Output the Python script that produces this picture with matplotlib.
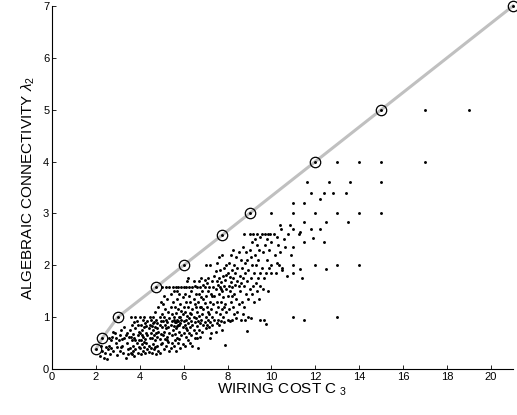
import matplotlib
matplotlib.use("Agg")
import matplotlib.pyplot as plt
import numpy as np

plt.rcParams['font.family'] = ['Liberation Sans', 'DejaVu Sans']
plt.rcParams['mathtext.fontset'] = 'custom'
plt.rcParams['mathtext.rm'] = 'Liberation Sans'
plt.rcParams['mathtext.it'] = 'Liberation Sans:italic'

# Optimal frontier (circled points joined by gray line)
frontier_x = [2.0, 2.3, 3.0, 4.75, 6.0, 7.75, 9.0, 12.0, 15.0, 21.0]
frontier_y = [0.38, 0.6, 1.0, 1.58, 2.0, 2.58, 3.0, 4.0, 5.0, 7.0]

# Cloud of sampled networks (wiring cost, algebraic connectivity)
cloud_pts = [
    (2.2,0.25),(2.3,0.35),(2.35,0.22),(2.45,0.42),(2.5,0.2),(2.4,0.3),(2.25,0.45),
    (2.55,0.38),(2.6,0.45),(2.65,0.28),(2.7,0.55),(2.75,0.62),(2.8,0.35),(2.85,0.7),(2.9,0.5),(2.95,0.27),(2.6,0.6),(2.7,0.4),(2.8,0.72),(2.9,0.6),(2.95,0.42),
    (3.05,0.55),(3.1,0.65),(3.1,0.35),(3.15,0.75),(3.2,0.45),(3.25,0.3),(3.3,0.6),(3.3,0.8),(3.35,0.22),(3.4,0.5),(3.4,0.7),(3.45,0.38),(3.2,0.58),(3.35,0.65),(3.45,0.28),(3.15,0.42),(3.5,0.62),
    (3.55,0.4),(3.55,0.75),(3.6,0.3),(3.6,1.0),(3.65,0.55),(3.65,0.85),(3.7,0.45),(3.7,0.68),(3.75,0.25),(3.75,0.6),(3.8,0.38),(3.8,0.78),(3.85,0.5),(3.85,0.92),(3.9,0.3),(3.9,0.65),(3.95,0.42),(3.95,0.72),(3.6,0.62),(3.7,0.35),(3.8,0.55),(3.9,0.85),(3.75,0.9),(3.95,0.55),(3.65,0.28),(3.8,1.0),
    (4.0,0.4),(4.0,0.7),(4.0,1.0),(4.05,0.28),(4.05,0.55),(4.05,0.85),(4.1,0.48),(4.1,0.75),(4.15,0.35),(4.15,0.62),(4.15,0.95),(4.2,0.42),(4.2,0.8),(4.25,0.3),(4.25,0.58),(4.25,0.88),(4.3,0.5),(4.3,0.7),(4.35,0.38),(4.35,0.65),(4.35,0.92),(4.4,0.45),(4.4,0.78),(4.45,0.6),(4.45,0.85),(4.1,0.65),(4.2,0.52),(4.3,0.82),(4.4,0.32),(4.45,1.0),(4.2,1.0),
    (4.5,0.4),(4.5,0.7),(4.5,0.95),(4.55,0.3),(4.55,0.6),(4.55,0.82),(4.6,0.48),(4.6,0.75),(4.6,1.0),(4.65,0.38),(4.65,0.65),(4.65,0.9),(4.7,0.55),(4.7,0.8),(4.7,1.1),(4.75,0.28),(4.75,0.7),(4.75,0.95),(4.8,0.45),(4.8,0.62),(4.8,0.88),(4.85,0.72),(4.85,1.2),(4.85,0.35),(4.9,0.58),(4.9,0.85),(4.9,1.0),(4.95,0.68),(4.95,0.92),(4.95,0.48),(4.6,0.88),(4.7,0.42),(4.8,0.78),(4.9,0.3),(4.95,1.3),
    (5.0,0.5),(5.0,0.8),(5.0,1.05),(5.0,1.58),(5.05,0.65),(5.05,0.92),(5.05,1.25),(5.1,0.38),(5.1,0.72),(5.1,1.0),(5.15,0.58),(5.15,0.85),(5.15,1.15),(5.2,0.45),(5.2,0.78),(5.2,0.95),(5.2,1.58),(5.25,0.62),(5.25,0.9),(5.25,1.35),(5.3,0.52),(5.3,0.8),(5.3,1.1),(5.35,0.7),(5.35,0.98),(5.35,1.58),(5.4,0.4),(5.4,0.85),(5.4,1.2),(5.4,1.45),(5.45,0.65),(5.45,0.92),(5.45,1.05),(5.5,0.75),(5.5,1.3),(5.5,1.58),(5.1,1.4),(5.25,0.55),(5.35,0.35),(5.45,0.5),
    (5.55,0.45),(5.55,0.82),(5.55,1.0),(5.55,1.5),(5.6,0.68),(5.6,0.9),(5.6,1.2),(5.65,0.35),(5.65,0.78),(5.65,1.08),(5.65,1.58),(5.7,0.6),(5.7,0.95),(5.7,1.35),(5.75,0.5),(5.75,0.85),(5.75,1.15),(5.75,1.58),(5.8,0.72),(5.8,1.0),(5.8,1.45),(5.85,0.4),(5.85,0.88),(5.85,1.25),(5.9,0.65),(5.9,0.95),(5.9,1.58),(5.95,0.8),(5.95,1.05),(5.95,1.38),(6.0,0.7),(6.0,0.92),(6.0,1.2),(6.0,1.58),(5.6,0.55),(5.7,1.5),(5.8,0.58),(5.9,1.12),(5.95,0.48),(5.85,1.0),(5.75,0.92),(5.65,0.9),(5.55,0.95),(5.7,0.82),(5.8,0.85),
    (6.05,0.45),(6.05,0.85),(6.05,1.1),(6.05,1.45),(6.1,0.62),(6.1,0.95),(6.1,1.3),(6.1,1.58),(6.15,0.75),(6.15,1.02),(6.15,1.7),(6.2,0.55),(6.2,0.88),(6.2,1.2),(6.25,0.7),(6.25,0.98),(6.25,1.4),(6.25,1.58),(6.3,0.8),(6.3,1.08),(6.3,1.3),(6.35,0.65),(6.35,0.92),(6.35,1.5),(6.4,0.45),(6.4,0.85),(6.4,1.15),(6.4,1.58),(6.45,0.75),(6.45,1.0),(6.45,1.35),(6.5,0.6),(6.5,0.9),(6.5,1.25),(6.5,1.6),(6.2,1.75),(6.3,0.5),(6.45,1.7),(6.1,0.78),(6.35,1.05),
    (6.55,0.7),(6.55,0.98),(6.55,1.45),(6.6,0.82),(6.6,1.1),(6.6,1.58),(6.65,0.4),(6.65,0.92),(6.65,1.3),(6.7,0.75),(6.7,1.02),(6.7,1.7),(6.75,0.62),(6.75,0.88),(6.75,1.2),(6.75,1.58),(6.8,0.95),(6.8,1.38),(6.8,1.75),(6.85,0.72),(6.85,1.05),(6.85,1.5),(6.9,0.85),(6.9,1.15),(6.9,1.62),(6.95,0.9),(6.95,1.28),(6.95,1.58),(7.0,0.78),(7.0,1.0),(7.0,1.4),(7.0,2.0),(6.6,0.6),(6.7,1.45),(6.8,1.2),(6.9,1.35),(6.95,1.72),(6.55,1.2),
    (7.05,0.85),(7.05,1.2),(7.05,1.65),(7.1,0.95),(7.1,1.5),(7.1,1.75),(7.15,0.8),(7.15,1.05),(7.15,1.58),(7.2,0.9),(7.2,1.3),(7.2,2.0),(7.25,0.7),(7.25,1.15),(7.25,1.45),(7.3,0.85),(7.3,1.0),(7.3,1.7),(7.35,1.25),(7.35,1.58),(7.4,0.95),(7.4,1.4),(7.4,1.8),(7.45,0.72),(7.45,1.1),(7.45,1.55),(7.5,0.88),(7.5,1.3),(7.5,1.7),(7.5,2.05),(7.1,1.1),(7.3,1.4),(7.45,1.88),(7.2,0.6),
    (7.55,0.95),(7.55,1.2),(7.55,1.62),(7.6,0.85),(7.6,1.45),(7.6,1.75),(7.6,2.15),(7.65,1.05),(7.65,1.58),(7.65,1.9),(7.7,0.92),(7.7,1.3),(7.7,1.68),(7.75,0.75),(7.75,1.15),(7.75,1.5),(7.75,2.2),(7.8,1.0),(7.8,1.38),(7.8,1.8),(7.85,0.9),(7.85,1.6),(7.85,1.95),(7.9,0.47),(7.9,1.25),(7.9,1.72),(7.95,1.1),(7.95,1.55),(7.95,2.0),(8.0,0.95),(8.0,1.4),(8.0,1.85),(7.7,1.55),(7.85,1.2),(7.95,1.82),
    (8.05,1.15),(8.05,1.6),(8.05,2.05),(8.1,0.92),(8.1,1.5),(8.1,1.78),(8.15,1.3),(8.15,1.68),(8.15,2.2),(8.2,0.95),(8.2,1.58),(8.2,1.9),(8.25,1.2),(8.25,1.75),(8.25,2.3),(8.3,1.05),(8.3,1.45),(8.3,2.0),(8.35,1.62),(8.35,1.85),(8.4,0.98),(8.4,1.35),(8.4,2.15),(8.45,1.7),(8.45,1.95),(8.5,1.25),(8.5,1.6),(8.5,2.25),(8.2,1.4),(8.45,1.1),
    (8.55,1.5),(8.55,1.8),(8.6,0.95),(8.6,2.1),(8.6,1.65),(8.65,1.3),(8.65,1.95),(8.7,1.75),(8.7,2.35),(8.75,1.2),(8.75,1.6),(8.75,2.6),(8.8,0.95),(8.8,1.85),(8.8,2.05),(8.85,1.45),(8.85,2.25),(8.9,0.73),(8.9,1.7),(8.9,2.1),(8.95,1.0),(8.95,1.9),(9.0,1.55),(9.0,2.3),(9.0,2.6),(8.7,1.05),(8.95,1.35),
    (9.05,0.98),(9.05,1.75),(9.05,2.15),(9.1,1.45),(9.1,2.0),(9.1,2.45),(9.15,1.6),(9.15,2.6),(9.2,1.3),(9.2,1.85),(9.25,2.2),(9.25,2.5),(9.3,1.65),(9.3,2.0),(9.35,1.5),(9.35,2.4),(9.35,2.6),(9.4,1.75),(9.4,2.1),(9.45,1.35),(9.45,2.3),(9.5,1.85),(9.5,2.55),(9.5,0.95),(9.5,1.6),
    (9.55,1.95),(9.55,2.6),(9.6,1.55),(9.6,2.25),(9.65,0.95),(9.65,1.75),(9.7,2.4),(9.7,2.6),(9.75,0.87),(9.75,1.85),(9.8,2.1),(9.8,2.5),(9.85,1.5),(9.85,2.6),(9.9,1.95),(9.9,2.3),(9.95,2.6),(10.0,2.0),(10.0,1.85),(10.0,2.45),
    (10.1,2.6),(10.15,2.2),(10.2,1.85),(10.25,2.55),(10.3,2.4),(10.35,2.0),(10.4,2.78),(10.4,2.25),(10.45,2.7),(10.5,1.95),(10.55,2.5),(10.6,2.35),(10.25,2.05),(10.7,1.8),(10.75,2.6),(10.85,2.78),(10.9,2.2),(11.0,2.35),(10.5,1.9),
    (11.0,3.0),(11.0,3.2),(11.5,3.2),(11.6,3.6),(11.8,3.4),(12.2,3.27),(12.4,3.4),(12.6,3.6),(12.8,3.4),(13.4,3.4),(13.6,3.6),(15.0,3.6),
    (10.0,3.0),(12.0,3.0),(13.0,3.0),(14.0,3.0),(15.0,3.0),(11.5,2.83),(12.5,2.83),(13.5,2.83),
    (11.0,2.7),(11.8,2.7),(12.2,2.7),(11.3,2.65),(11.25,2.6),(11.9,2.52),(11.5,2.44),(12.4,2.44),
    (11.0,2.0),(12.0,2.0),(13.0,2.0),(14.0,2.0),(11.3,1.92),(12.5,1.92),(11.0,1.85),(11.4,1.75),
    (11.0,1.0),(13.0,1.0),(11.5,0.95),(13.0,4.0),(14.0,4.0),(15.0,4.0),(17.0,4.0),(17.0,5.0),(19.0,5.0),
]
cloud_x = [p[0] for p in cloud_pts]
cloud_y = [p[1] for p in cloud_pts]

x_ticks = list(range(0, 21, 2))
y_ticks = list(range(0, 8))

fig = plt.figure(figsize=(5.17, 4.15), dpi=100)
ax = fig.add_axes([0.1006, 0.111, 0.8914, 0.8745])

ax.plot(frontier_x, frontier_y, color='#c0c0c0', lw=2.2, zorder=1, clip_on=False)
ax.plot(cloud_x, cloud_y, 'o', color='black', ms=2.1, mec='none', zorder=2)
ax.plot(frontier_x, frontier_y, 'o', mfc='none', mec='black', ms=7.5, mew=0.9, zorder=3, clip_on=False)
ax.plot(frontier_x, frontier_y, 'o', color='black', ms=2.1, mec='none', zorder=3, clip_on=False)

ax.set_xlim(0, 21)
ax.set_ylim(0, 7)
ax.set_xticks(x_ticks)
ax.set_yticks(y_ticks)
ax.tick_params(direction='in', length=3, width=0.6, labelsize=8, pad=2)
for s in ['top', 'right']:
    ax.spines[s].set_visible(False)
for s in ['left', 'bottom']:
    ax.spines[s].set_linewidth(0.8)

ax.set_xlabel(r'WIRING COST C $_3$', fontsize=11, labelpad=0)
ax.set_ylabel(r'ALGEBRAIC CONNECTIVITY $\lambda_2$', fontsize=11, labelpad=4)

fig.savefig('out.png', dpi=100)
